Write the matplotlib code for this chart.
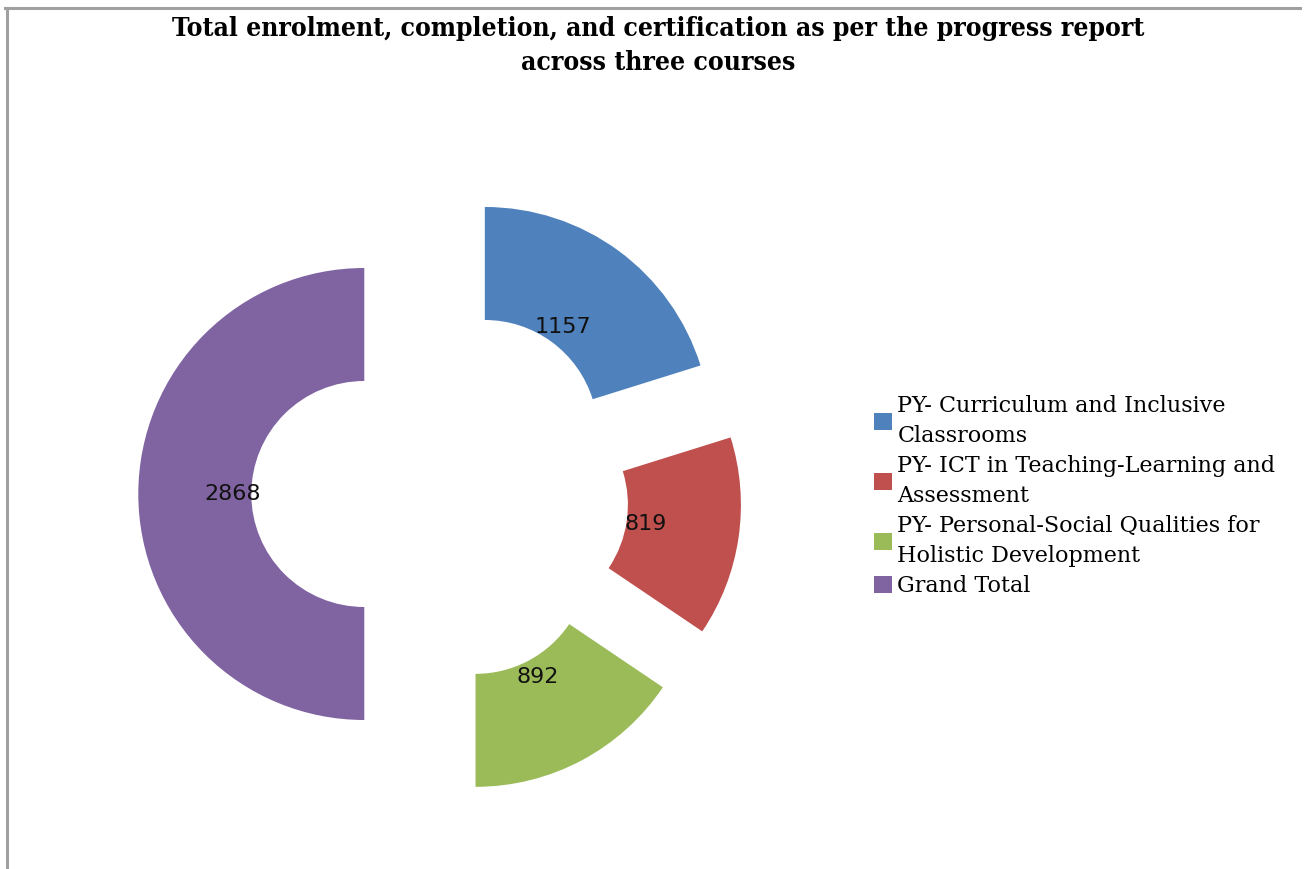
import matplotlib.pyplot as plt
from matplotlib.lines import Line2D

# data
courses = ['PY- Curriculum and Inclusive\nClassrooms',
           'PY- ICT in Teaching-Learning and\nAssessment',
           'PY- Personal-Social Qualities for\nHolistic Development',
           'Grand Total']
counts = [1157, 819, 892, 2868]
colours = ['#4F81BD', '#C0504D', '#9BBB59', '#8064A2']

W, H = 1308, 869
cx, cy, R = 440, 494, 226   # pie centre / radius in pixels

fig = plt.figure(figsize=(W/100, H/100), dpi=100)
ax = fig.add_axes([0, 0, 1, 1])

total = sum(counts)
wedges, txt, autotxt = ax.pie(counts, colors=colours, startangle=90, counterclock=False,
                              explode=[0.335]*4, radius=1,
                              wedgeprops=dict(width=0.5, linewidth=0),
                              autopct=lambda p: '%d' % round(p*total/100),
                              pctdistance=0.584,
                              textprops=dict(fontsize=16, color='#111111'))
ax.set_xlim(-cx/R, (W-cx)/R)
ax.set_ylim(-(H-cy)/R, cy/R)
ax.set_aspect('equal')
ax.axis('off')

fig.text(0.503, 0.982, 'Total enrolment, completion, and certification as per the progress report\nacross three courses',
         ha='center', va='top', fontsize=19, fontweight='bold', family='DejaVu Serif',
         fontstretch='condensed', linespacing=1.45)

leg = fig.legend(wedges, courses, loc='center left', bbox_to_anchor=(0.653, 0.429),
                 frameon=False, prop=dict(family='DejaVu Serif', size=16),
                 handlelength=0.8, handleheight=0.8, handletextpad=0.25,
                 labelspacing=0.38)
for t in leg.get_texts():
    t.set_linespacing(1.45)

# frame lines of the original image
fig.add_artist(Line2D([5/W, 1300/W], [1-8/H, 1-8/H], color='#a0a0a0', lw=2.2))
fig.add_artist(Line2D([7/W, 7/W], [0, 1-8/H], color='#a0a0a0', lw=2.2))

fig.savefig('out.png', dpi=100)
